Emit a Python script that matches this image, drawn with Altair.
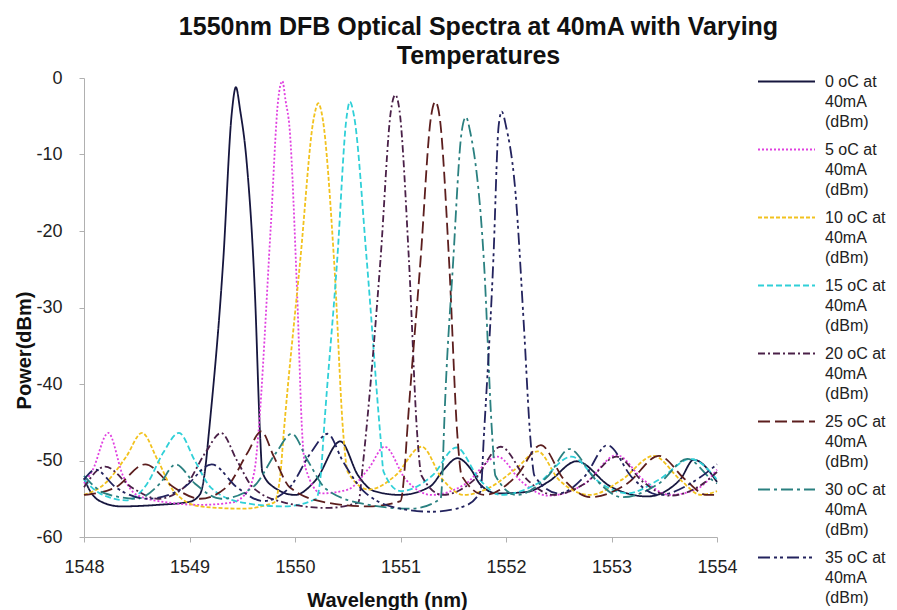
import altair as alt
import pandas as pd

series = [
    "0 oC at|40mA|(dBm)", "5 oC at|40mA|(dBm)", "10 oC at|40mA|(dBm)", "15 oC at|40mA|(dBm)",
    "20 oC at|40mA|(dBm)", "25 oC at|40mA|(dBm)", "30 oC at|40mA|(dBm)", "35 oC at|40mA|(dBm)",
]
colors = ["#16163e", "#e040e0", "#f2c21e", "#30d0d8", "#4a2048", "#5c1e1e", "#2a8080", "#23235e"]
dashes = [[1, 0], [2, 2], [4, 2], [6, 3], [7, 3, 2, 3], [12, 5], [12, 4, 3, 4], [12, 4, 3, 3, 3, 4]]

wl_0 = [1548.00, 1548.05, 1548.15, 1548.35, 1548.70, 1549.00, 1549.10, 1549.15, 1549.18, 1549.32, 1549.40, 1549.44, 1549.48, 1549.54, 1549.62, 1549.67, 1549.69, 1549.80, 1550.00, 1550.20, 1550.43, 1550.60, 1550.75, 1551.00, 1551.28, 1551.41, 1551.54, 1551.66, 1551.76, 1551.92, 1552.20, 1552.40, 1552.67, 1552.99, 1553.34, 1553.65, 1553.78, 1554.00]
pw_0 = [-52.3, -53.8, -55.3, -56.0, -55.8, -55.4, -54.4, -51.0, -46.9, -23.8, -4.7, -1.2, -4.2, -10.7, -28.1, -46.9, -51.5, -53.5, -54.5, -52.5, -47.5, -52.0, -54.0, -54.5, -53.4, -51.2, -49.7, -51.0, -53.2, -54.3, -54.1, -52.8, -50.1, -53.4, -54.7, -52.5, -49.9, -52.8]

wl_5 = [1548.00, 1548.08, 1548.23, 1548.37, 1548.50, 1548.80, 1549.10, 1549.40, 1549.55, 1549.62, 1549.65, 1549.77, 1549.84, 1549.88, 1549.91, 1549.95, 1550.02, 1550.07, 1550.10, 1550.25, 1550.50, 1550.70, 1550.85, 1551.05, 1551.30, 1551.60, 1551.92, 1552.15, 1552.40, 1552.75, 1553.05, 1553.30, 1553.55, 1553.80, 1554.00]
pw_5 = [-53.0, -51.3, -46.4, -52.0, -54.5, -55.5, -55.8, -55.5, -54.0, -51.0, -46.9, -19.5, -2.9, -0.4, -2.9, -6.8, -28.1, -46.9, -51.0, -54.3, -53.8, -51.0, -48.2, -52.5, -54.5, -53.2, -49.5, -52.8, -54.6, -53.0, -49.3, -52.5, -54.5, -53.8, -51.2]

wl_10 = [1548.00, 1548.20, 1548.40, 1548.55, 1548.70, 1548.85, 1549.10, 1549.50, 1549.80, 1549.86, 1549.89, 1550.05, 1550.18, 1550.22, 1550.26, 1550.37, 1550.46, 1550.50, 1550.70, 1550.95, 1551.20, 1551.40, 1551.60, 1551.85, 1552.10, 1552.30, 1552.50, 1552.80, 1553.10, 1553.40, 1553.65, 1553.85, 1554.00]
pw_10 = [-54.5, -53.0, -49.5, -46.4, -50.0, -54.0, -56.0, -56.3, -55.5, -52.0, -46.9, -23.8, -5.1, -3.3, -5.1, -23.8, -46.9, -51.5, -53.8, -52.0, -48.2, -52.5, -54.5, -53.5, -51.0, -48.8, -52.5, -54.5, -52.5, -49.4, -52.5, -54.5, -54.0]

wl_15 = [1548.00, 1548.15, 1548.40, 1548.60, 1548.75, 1548.90, 1549.05, 1549.20, 1549.50, 1549.90, 1550.20, 1550.25, 1550.27, 1550.40, 1550.49, 1550.52, 1550.56, 1550.68, 1550.81, 1550.84, 1551.00, 1551.30, 1551.53, 1551.75, 1551.95, 1552.30, 1552.62, 1552.90, 1553.15, 1553.45, 1553.75, 1554.00]
pw_15 = [-52.5, -54.3, -55.2, -53.0, -49.0, -46.4, -50.0, -53.5, -55.5, -56.0, -55.0, -51.0, -46.9, -23.8, -5.0, -3.1, -5.0, -23.8, -46.9, -51.5, -54.0, -52.0, -48.3, -52.5, -54.5, -53.0, -49.5, -53.0, -54.3, -52.5, -49.8, -52.5]

wl_20 = [1548.00, 1548.20, 1548.45, 1548.70, 1548.95, 1549.15, 1549.30, 1549.45, 1549.60, 1549.90, 1550.30, 1550.60, 1550.64, 1550.67, 1550.81, 1550.91, 1550.95, 1550.99, 1551.08, 1551.16, 1551.20, 1551.40, 1551.70, 1551.95, 1552.20, 1552.45, 1552.75, 1553.05, 1553.30, 1553.55, 1553.85, 1554.00]
pw_20 = [-53.5, -50.8, -53.5, -55.0, -53.5, -49.0, -46.4, -50.0, -53.5, -55.5, -56.2, -55.5, -51.0, -46.9, -23.8, -4.2, -2.2, -4.2, -23.8, -46.9, -52.0, -54.5, -52.5, -48.2, -52.5, -54.5, -53.0, -49.5, -52.8, -54.6, -53.2, -51.5]

wl_25 = [1548.00, 1548.30, 1548.58, 1548.85, 1549.10, 1549.35, 1549.55, 1549.68, 1549.80, 1549.95, 1550.30, 1550.70, 1551.00, 1551.04, 1551.06, 1551.19, 1551.29, 1551.33, 1551.37, 1551.46, 1551.54, 1551.58, 1551.80, 1552.10, 1552.33, 1552.55, 1552.80, 1553.15, 1553.45, 1553.70, 1553.90, 1554.00]
pw_25 = [-54.5, -53.5, -50.5, -53.5, -55.0, -53.5, -49.0, -46.2, -49.5, -53.5, -55.5, -56.0, -55.3, -51.0, -46.9, -23.8, -5.0, -3.1, -5.0, -23.8, -46.9, -52.0, -54.5, -52.0, -48.0, -52.5, -54.8, -53.0, -49.4, -52.5, -54.5, -54.5]

wl_30 = [1548.00, 1548.20, 1548.50, 1548.72, 1548.87, 1549.05, 1549.30, 1549.60, 1549.82, 1549.97, 1550.12, 1550.30, 1550.70, 1551.10, 1551.38, 1551.40, 1551.41, 1551.50, 1551.58, 1551.62, 1551.66, 1551.79, 1551.87, 1551.90, 1552.10, 1552.40, 1552.60, 1552.85, 1553.10, 1553.45, 1553.72, 1553.95, 1554.00]
pw_30 = [-52.0, -54.3, -55.0, -53.0, -50.5, -53.0, -55.0, -53.5, -49.0, -46.5, -50.0, -53.8, -55.8, -56.3, -55.0, -51.0, -46.9, -23.8, -7.0, -5.1, -7.0, -23.8, -46.9, -52.0, -54.5, -52.0, -48.5, -52.5, -54.8, -53.0, -49.8, -52.5, -53.0]

wl_35 = [1548.00, 1548.11, 1548.30, 1548.60, 1548.95, 1549.21, 1549.45, 1549.70, 1549.95, 1550.15, 1550.31, 1550.45, 1550.65, 1551.00, 1551.30, 1551.60, 1551.76, 1551.79, 1551.88, 1551.93, 1551.96, 1552.00, 1552.09, 1552.17, 1552.23, 1552.27, 1552.50, 1552.75, 1552.96, 1553.20, 1553.45, 1553.75, 1554.00]
pw_35 = [-52.5, -51.2, -53.5, -55.0, -53.5, -50.5, -53.5, -55.3, -53.5, -49.0, -46.5, -50.0, -54.0, -56.3, -56.7, -56.0, -54.0, -46.9, -23.8, -6.3, -4.4, -6.3, -15.0, -32.5, -46.9, -52.0, -54.3, -52.0, -48.0, -52.3, -54.5, -53.0, -50.5]

x_ticks = [1548, 1549, 1550, 1551, 1552, 1553, 1554]
y_ticks = [-60, -50, -40, -30, -20, -10, 0]

all_wl = [wl_0, wl_5, wl_10, wl_15, wl_20, wl_25, wl_30, wl_35]
all_pw = [pw_0, pw_5, pw_10, pw_15, pw_20, pw_25, pw_30, pw_35]

rows = []
for name, wls, pws in zip(series, all_wl, all_pw):
    assert len(wls) == len(pws), name
    for i, (w, p) in enumerate(zip(wls, pws)):
        rows.append({"series": name, "wl": w, "pw": p, "i": i})
df = pd.DataFrame(rows)

FONT = "Liberation Sans"

legend = alt.Legend(
    title=None, orient="none", legendX=692, legendY=-7, padding=0,
    symbolType="M-3,0H3", symbolSize=361, symbolStrokeWidth=2,
    labelExpr="split(datum.label, '|')", labelFont=FONT, labelFontSize=16,
    labelColor="#222222", labelOffset=28, labelBaseline="middle",
    rowPadding=9, labelLimit=0,
)

chart = alt.Chart(df).mark_line(interpolate="monotone", strokeWidth=1.8, clip=False).encode(
    x=alt.X("wl:Q", scale=alt.Scale(domain=[1548, 1554], nice=False, zero=False),
            axis=alt.Axis(values=x_ticks, format="d", title="Wavelength (nm)", grid=False,
                          labelFlush=False, labelFont=FONT, labelFontSize=18, labelColor="#222222",
                          labelPadding=16, tickSize=5, tickColor="#b0b0b0", domainColor="#b0b0b0",
                          titleFont=FONT, titleFontSize=20, titleFontWeight="bold", titleColor="#111111",
                          titleX=303, titleY=63, titleBaseline="middle", titleAlign="center")),
    y=alt.Y("pw:Q", scale=alt.Scale(domain=[-60, 0], nice=False, zero=False),
            axis=alt.Axis(values=y_ticks, labelExpr="toString(datum.value)", title="Power(dBm)", grid=False,
                          labelFlush=False, labelFont=FONT, labelFontSize=18, labelColor="#222222",
                          labelPadding=17, tickSize=5, tickColor="#b0b0b0", domainColor="#b0b0b0",
                          titleFont=FONT, titleFontSize=20, titleFontWeight="bold", titleColor="#111111",
                          titleX=-60, titleY=272, titleAngle=270, titleBaseline="middle", titleAlign="center")),
    color=alt.Color("series:N", scale=alt.Scale(domain=series, range=colors), legend=legend),
    strokeDash=alt.StrokeDash("series:N", scale=alt.Scale(domain=series, range=dashes), legend=legend),
    order="i:Q",
).properties(
    width=633, height=459,
    autosize=alt.AutoSizeParams(type="none"),
    padding={"left": 84, "top": 78, "right": 180, "bottom": 73},
    title=alt.TitleParams(
        text=["1550nm DFB Optical Spectra at 40mA with Varying", "Temperatures"],
        font=FONT, fontSize=25, fontWeight="bold", color="#111111",
        anchor="middle", frame="group", dx=78, offset=0, lineHeight=29,
    ),
).configure(
    background="white", style={"guide-label": {"lineHeight": 20}}
).configure_view(stroke=None)

chart.save("out.html", embed_options={"renderer": "svg", "actions": False})
